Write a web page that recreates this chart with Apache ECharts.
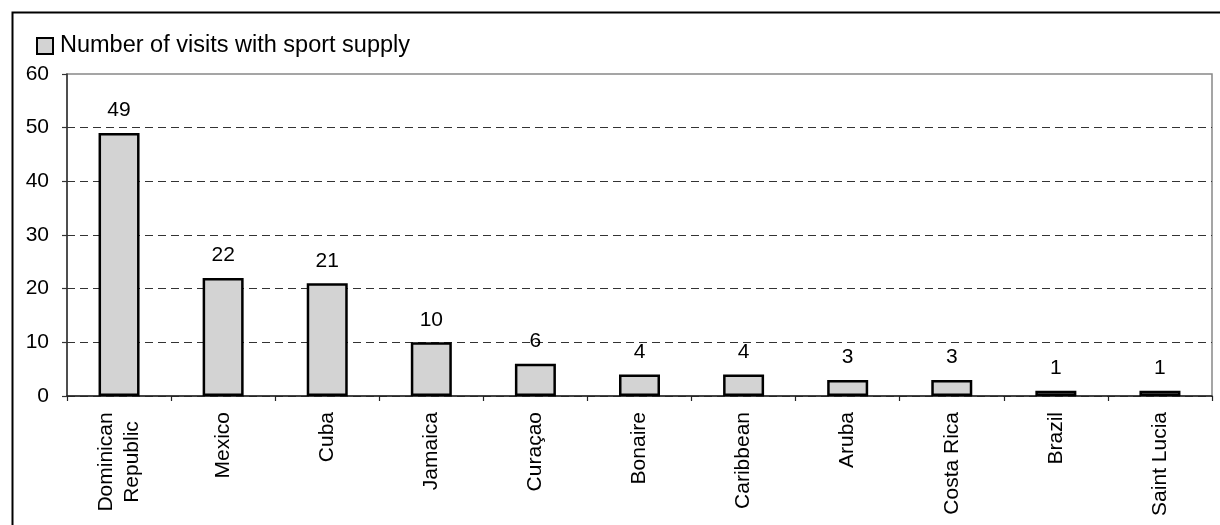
<!DOCTYPE html>
<html>
<head>
<meta charset="utf-8">
<script src="https://cdn.jsdelivr.net/npm/echarts@6/dist/echarts.min.js"></script>
<style>
html,body{margin:0;padding:0;background:#fff;}
#chart{width:1220px;height:525px;}
</style>
</head>
<body>
<div id="chart"></div>
<script>
const categories = ['Dominican Republic','Mexico','Cuba','Jamaica','Curaçao','Bonaire','Caribbean','Aruba','Costa Rica','Brazil','Saint Lucia'];
const visits = [49,22,21,10,6,4,4,3,3,1,1];
const seriesName = 'Number of visits with sport supply';
const yMin = 0, yMax = 60, yStep = 10;

const chart = echarts.init(document.getElementById('chart'));
const FONT = 'Liberation Sans, Arial, sans-serif';
chart.setOption({
  animation: false,
  backgroundColor: '#fff',
  textStyle: {fontFamily: FONT, color: '#000'},
  graphic: [{
    type: 'rect', left: 10, top: 10, z: -10,
    shape: {width: 1240, height: 540},
    style: {fill: 'none', stroke: '#000', lineWidth: 2}
  }],
  legend: {
    left: 31, top: 29,
    itemWidth: 16, itemHeight: 16,
    textStyle: {fontSize: 23.5, color: '#000', fontFamily: FONT, padding: [0,0,0,2]},
    data: [{name: seriesName, icon: 'rect'}]
  },
  grid: {left: 67, right: 8, top: 74, bottom: 129, show: true, borderColor: '#888', borderWidth: 1.5},
  xAxis: {
    type: 'category',
    data: categories,
    boundaryGap: true,
    axisLine: {lineStyle: {color: '#222', width: 1.5}},
    axisTick: {show: true, length: 5, lineStyle: {color: '#222', width: 1.2}},
    axisLabel: {
      rotate: 90, margin: 16, fontSize: 21, color: '#000', fontFamily: FONT, interval: 0,
      formatter: function (v) {
        const parts = v.split(' ');
        if (v === 'Dominican Republic') {
          return '{c|' + parts[0] + '}\n{c|' + parts[1] + '}';
        }
        return v;
      },
      rich: {c: {fontSize: 21, width: 100, align: 'center', lineHeight: 26, fontFamily: FONT, color: '#000'}}
    }
  },
  yAxis: {
    type: 'value',
    min: yMin, max: yMax, interval: yStep,
    axisLine: {show: true, lineStyle: {color: '#333', width: 1.5}},
    axisTick: {show: true, length: 5, lineStyle: {color: '#333', width: 1.2}},
    axisLabel: {margin: 18, fontSize: 21, color: '#000', fontFamily: FONT},
    splitLine: {show: true, showMaxLine: false, lineStyle: {color: '#333', type: [8,5], width: 1}}
  },
  series: [{
    name: seriesName,
    type: 'bar',
    data: visits,
    barWidth: 41,
    itemStyle: {color: '#d3d3d3', borderColor: '#000', borderWidth: 2.5},
    label: {show: true, position: 'top', distance: 12, fontSize: 21, color: '#000', fontFamily: FONT}
  }]
});
</script>
</body>
</html>
